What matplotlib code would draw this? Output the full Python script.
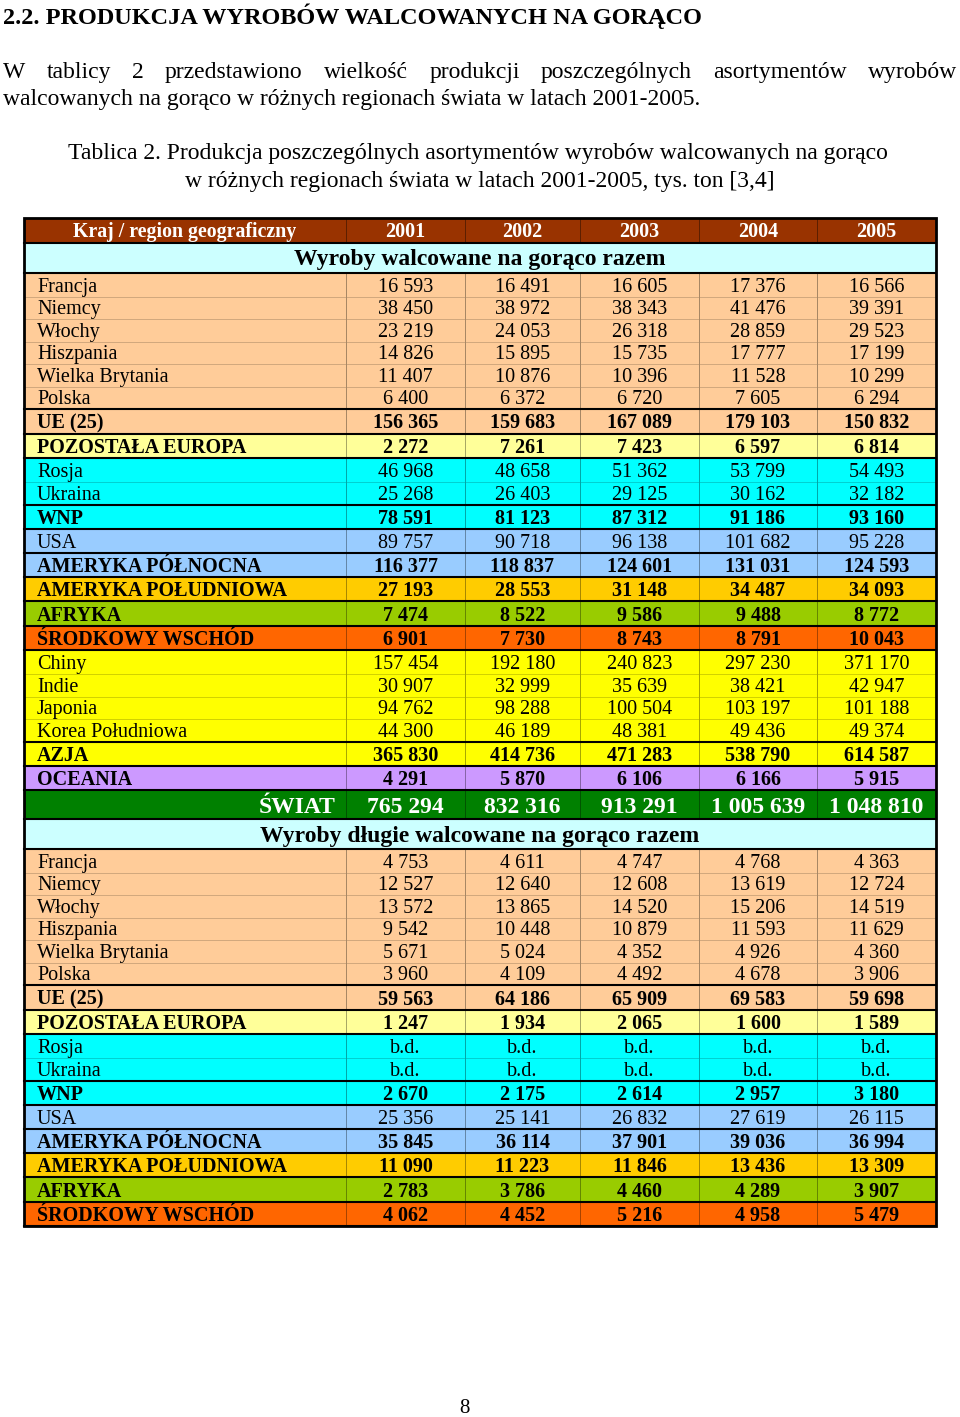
# Tablica 2 - produkcja wyrobów walcowanych na gorąco 2001-2005

import matplotlib
matplotlib.use("Agg")
import matplotlib.pyplot as plt
from matplotlib.patches import Rectangle
from matplotlib.colors import to_rgb

plt.rcParams["font.family"] = ["Liberation Serif", "DejaVu Serif"]

# dane
lata = ["2001", "2002", "2003", "2004", "2005"]

kraje_razem = ["Francja", "Niemcy", "Włochy", "Hiszpania", "Wielka Brytania", "Polska",
               "UE (25)", "POZOSTAŁA EUROPA", "Rosja", "Ukraina", "WNP", "USA",
               "AMERYKA PÓŁNOCNA", "AMERYKA POŁUDNIOWA", "AFRYKA", "ŚRODKOWY WSCHÓD",
               "Chiny", "Indie", "Japonia", "Korea Południowa", "AZJA", "OCEANIA", "ŚWIAT"]
razem_2001 = [16593, 38450, 23219, 14826, 11407, 6400, 156365, 2272, 46968, 25268, 78591,
              89757, 116377, 27193, 7474, 6901, 157454, 30907, 94762, 44300, 365830, 4291, 765294]
razem_2002 = [16491, 38972, 24053, 15895, 10876, 6372, 159683, 7261, 48658, 26403, 81123,
              90718, 118837, 28553, 8522, 7730, 192180, 32999, 98288, 46189, 414736, 5870, 832316]
razem_2003 = [16605, 38343, 26318, 15735, 10396, 6720, 167089, 7423, 51362, 29125, 87312,
              96138, 124601, 31148, 9586, 8743, 240823, 35639, 100504, 48381, 471283, 6106, 913291]
razem_2004 = [17376, 41476, 28859, 17777, 11528, 7605, 179103, 6597, 53799, 30162, 91186,
              101682, 131031, 34487, 9488, 8791, 297230, 38421, 103197, 49436, 538790, 6166, 1005639]
razem_2005 = [16566, 39391, 29523, 17199, 10299, 6294, 150832, 6814, 54493, 32182, 93160,
              95228, 124593, 34093, 8772, 10043, 371170, 42947, 101188, 49374, 614587, 5915, 1048810]

kraje_dlugie = ["Francja", "Niemcy", "Włochy", "Hiszpania", "Wielka Brytania", "Polska",
                "UE (25)", "POZOSTAŁA EUROPA", "Rosja", "Ukraina", "WNP", "USA",
                "AMERYKA PÓŁNOCNA", "AMERYKA POŁUDNIOWA", "AFRYKA", "ŚRODKOWY WSCHÓD"]
# None = b.d. (brak danych)
dlugie_2001 = [4753, 12527, 13572, 9542, 5671, 3960, 59563, 1247, None, None, 2670,
               25356, 35845, 11090, 2783, 4062]
dlugie_2002 = [4611, 12640, 13865, 10448, 5024, 4109, 64186, 1934, None, None, 2175,
               25141, 36114, 11223, 3786, 4452]
dlugie_2003 = [4747, 12608, 14520, 10879, 4352, 4492, 65909, 2065, None, None, 2614,
               26832, 37901, 11846, 4460, 5216]
dlugie_2004 = [4768, 13619, 15206, 11593, 4926, 4678, 69583, 1600, None, None, 2957,
               27619, 39036, 13436, 4289, 4958]
dlugie_2005 = [4363, 12724, 14519, 11629, 4360, 3906, 59698, 1589, None, None, 3180,
               26115, 36994, 13309, 3907, 5479]

sekcje = [("Wyroby walcowane na gorąco razem", kraje_razem,
           [razem_2001, razem_2002, razem_2003, razem_2004, razem_2005]),
          ("Wyroby długie walcowane na gorąco razem", kraje_dlugie,
           [dlugie_2001, dlugie_2002, dlugie_2003, dlugie_2004, dlugie_2005])]

# kolory wierszy
BRAZ = "#993300"
kolor_wiersza = {}
for k in ["Francja", "Niemcy", "Włochy", "Hiszpania", "Wielka Brytania", "Polska", "UE (25)"]:
    kolor_wiersza[k] = "#FFCC99"
kolor_wiersza["POZOSTAŁA EUROPA"] = "#FFFF99"
for k in ["Rosja", "Ukraina", "WNP"]:
    kolor_wiersza[k] = "#00FFFF"
for k in ["USA", "AMERYKA PÓŁNOCNA"]:
    kolor_wiersza[k] = "#99CCFF"
kolor_wiersza["AMERYKA POŁUDNIOWA"] = "#FFCC00"
kolor_wiersza["AFRYKA"] = "#99CC00"
kolor_wiersza["ŚRODKOWY WSCHÓD"] = "#FF6600"
for k in ["Chiny", "Indie", "Japonia", "Korea Południowa", "AZJA"]:
    kolor_wiersza[k] = "#FFFF00"
kolor_wiersza["OCEANIA"] = "#CC99FF"
kolor_wiersza["ŚWIAT"] = "#008000"

pogrubione = {"UE (25)", "POZOSTAŁA EUROPA", "WNP", "AMERYKA PÓŁNOCNA", "AMERYKA POŁUDNIOWA",
              "AFRYKA", "ŚRODKOWY WSCHÓD", "AZJA", "OCEANIA", "ŚWIAT"}


def ciemniej(c, f):
    r, g, b = to_rgb(c)
    return (r * f, g * f, b * f)


def fmt(v):
    if v is None:
        return "b.d."
    return f"{v:,}".replace(",", " ")


W, H = 960, 1417
fig = plt.figure(figsize=(W / 100, H / 100), dpi=100)
ax = fig.add_axes([0, 0, 1, 1])
ax.set_xlim(0, W)
ax.set_ylim(H, 0)
ax.axis("off")

# tekst nad tabelą
ax.text(3, 24, "2.2. PRODUKCJA WYROBÓW WALCOWANYCH NA GORĄCO", fontsize=17.5,
        fontweight="bold", ha="left", va="baseline")

# wyjustowana pierwsza linia akapitu
slowa = "W tablicy 2 przedstawiono wielkość produkcji poszczególnych asortymentów wyrobów".split()
renderer = fig.canvas.get_renderer()
teksty = [ax.text(0, 78, s, fontsize=17, ha="left", va="baseline") for s in slowa]
szer = []
for t in teksty:
    bb = t.get_window_extent(renderer)
    szer.append(bb.width)
odstep = (957 - 3 - sum(szer)) / (len(slowa) - 1)
x = 3
for t, w in zip(teksty, szer):
    t.set_x(x)
    x += w + odstep
ax.text(3, 105, "walcowanych na gorąco w różnych regionach świata w latach 2001-2005.",
        fontsize=17, ha="left", va="baseline")

ax.text(478, 159, "Tablica 2. Produkcja poszczególnych asortymentów wyrobów walcowanych na gorąco",
        fontsize=17, ha="center", va="baseline")
ax.text(480, 187, "w różnych regionach świata w latach 2001-2005, tys. ton [3,4]",
        fontsize=17, ha="center", va="baseline")

# tabela
kol = [24, 346, 465, 580, 699, 817, 936]
x_lewo, x_prawo = kol[0], kol[-1]
GRUBA = 1.5
CIENKA = 0.7

poziome = []   # y grubych linii

# nagłówek
y = 218
h = 25
ax.add_patch(Rectangle((x_lewo, y), x_prawo - x_lewo, h, facecolor=BRAZ, edgecolor="none"))
ax.text((kol[0] + kol[1]) / 2, y + h - 6, "Kraj / region geograficzny", color="white",
        fontsize=14.3, fontweight="bold", ha="center", va="baseline")
for i, rok in enumerate(lata):
    ax.text((kol[i + 1] + kol[i + 2]) / 2, y + h - 6, rok, color="white",
            fontsize=14.5, fontweight="bold", ha="center", va="baseline")
for xk in kol[1:-1]:
    ax.plot([xk, xk], [y, y + h], color=ciemniej(BRAZ, 0.6), lw=CIENKA)
y += h
poziome.append(y)

for tytul, kraje, wartosci in sekcje:
    h = 29.5
    ax.add_patch(Rectangle((x_lewo, y), x_prawo - x_lewo, h, facecolor="#CCFFFF", edgecolor="none"))
    ax.text(480, y + h - 7, tytul, fontsize=17, fontweight="bold", ha="center", va="baseline")
    y += h
    poziome.append(y)
    poprz_grube = True
    for j, kraj in enumerate(kraje):
        bold = kraj in pogrubione
        if kraj == "ŚWIAT":
            h = 29
        elif bold:
            h = 24.2
        elif poprz_grube:
            h = 24.3
        else:
            h = 22.5
        kolor = kolor_wiersza[kraj]
        ax.add_patch(Rectangle((x_lewo, y), x_prawo - x_lewo, h, facecolor=kolor, edgecolor="none"))
        for xk in kol[1:-1]:
            ax.plot([xk, xk], [y, y + h], color=ciemniej(kolor, 0.65), lw=CIENKA, zorder=2)
        if kraj == "ŚWIAT":
            ax.text(kol[1] - 10, y + h - 6, kraj, color="white", fontsize=17,
                    fontweight="bold", ha="right", va="baseline")
            for i in range(5):
                ax.text((kol[i + 1] + kol[i + 2]) / 2, y + h - 6, fmt(wartosci[i][j]),
                        color="white", fontsize=17, fontweight="bold", ha="center", va="baseline")
        else:
            fw = "bold" if bold else "normal"
            ax.text(37, y + h - 5, kraj, fontsize=14.5, fontweight=fw, ha="left", va="baseline")
            for i in range(5):
                ax.text((kol[i + 1] + kol[i + 2]) / 2, y + h - 5, fmt(wartosci[i][j]),
                        fontsize=14.5, fontweight=fw, ha="center", va="baseline")
        y += h
        nast_bold = j + 1 < len(kraje) and kraje[j + 1] in pogrubione
        gruba = bold or nast_bold or j + 1 == len(kraje)
        if not gruba:
            # cienka linia w kolorze wiersza
            ax.plot([x_lewo, x_prawo], [y, y], color=ciemniej(kolor, 0.82), lw=CIENKA, zorder=2)
        else:
            poziome.append(y)
        poprz_grube = gruba

y_dol = y
for yy in poziome:
    ax.plot([x_lewo, x_prawo], [yy, yy], color="black", lw=GRUBA, zorder=3)
ax.add_patch(Rectangle((x_lewo, 218), x_prawo - x_lewo, y_dol - 218, facecolor="none",
                       edgecolor="black", lw=2.0, zorder=4))

# numer strony
ax.text(464, 1413, "8", fontsize=15, ha="center", va="baseline")

fig.savefig("out.png", dpi=100)
